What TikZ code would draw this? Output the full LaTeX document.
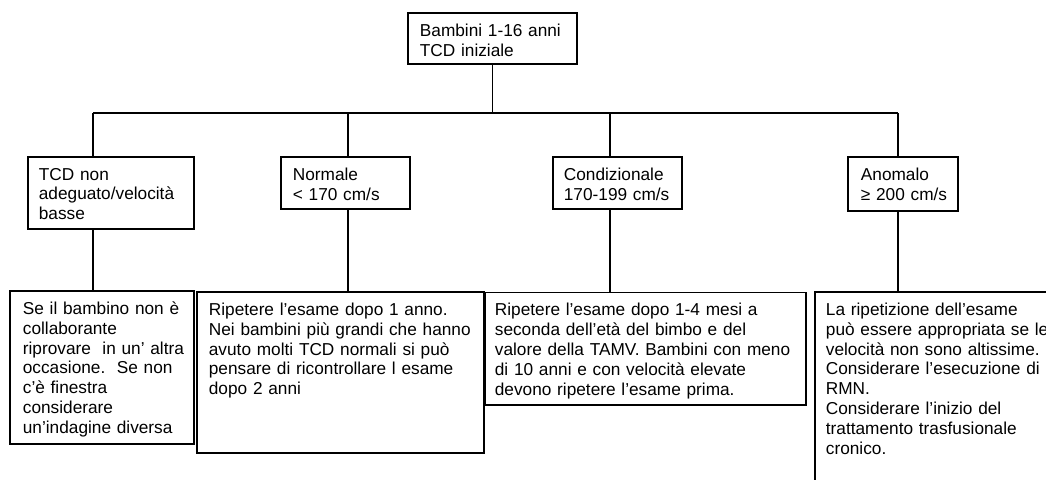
\documentclass[tikz,border=0pt]{standalone}
\usepackage{fontspec}
\setmainfont{Liberation Sans}
\usepackage{tikz}
\usetikzlibrary{positioning}
\hyphenpenalty=10000
\exhyphenpenalty=10000

\begin{document}
\begin{tikzpicture}[x=1pt, y=-1pt,
    box/.style={rectangle, draw, line width=1.8pt, anchor=north west, align=left,
        inner ysep=10pt, text height=13.5pt, font=\fontsize{17.25}{19.8}\selectfont},
    wire/.style={line width=1.8pt}]
    \useasboundingbox (0,0) rectangle (1046,479);
    \clip (0,0) rectangle (1046,479);

    % Root
    \node[box, inner xsep=12pt, text width=145pt, text depth=17.5pt] (root) at (407,12) {Bambini 1-16 anni\\TCD iniziale};

    % Classes
    \node[box, inner xsep=11pt, text width=144pt, text depth=39.1pt] (c1) at (27,155.7) {TCD non\\adeguato/velocità\\basse};
    \node[box, inner xsep=12pt, text width=105pt, text depth=18.8pt] (c2) at (280,156) {Normale\\< 170~cm/s};
    \node[box, inner xsep=11pt, text width=107pt, text depth=18.8pt] (c3) at (552,156) {Condizionale\\170-199~cm/s};
    \node[box, inner xsep=13pt, text width=84pt, text depth=20.5pt] (c4) at (847,156) {Anomalo\\≥~200~cm/s};

    % Actions
    \node[box, inner xsep=13pt, text width=158pt, text depth=119.2pt] (b1) at (9,290) {Se il bambino non è\\collaborante\\\mbox{riprovare~~in~un'~altra}\\\mbox{occasione.~~Se~non}\\c'è finestra\\considerare\\un’indagine diversa};
    \node[box, inner xsep=12pt, text width=263pt, text depth=127.2pt] (b2) at (196,291) {Ripetere l’esame dopo 1 anno.\\Nei bambini più grandi che hanno\\avuto molti TCD normali si può\\pensare di ricontrollare l esame\\dopo 2 anni};
    \node[box, inner xsep=10pt, text width=301pt, text depth=79pt] (b3) at (484,291.5) {Ripetere l’esame dopo 1-4 mesi a\\seconda dell’età del bimbo e del\\valore della TAMV. Bambini con meno\\di 10 anni e con velocità elevate\\devono ripetere l’esame prima.};
    \node[box, inner xsep=11pt, text width=238pt, text depth=166.5pt] (b4) at (814,291) {La ripetizione dell’esame\\può essere appropriata se le\\velocità non sono altissime.\\Considerare l’esecuzione di\\RMN.\\Considerare l’inizio del\\trattamento trasfusionale\\cronico.};

    % Bus
    \coordinate (j1) at (93,113);
    \coordinate (j2) at (348,113);
    \coordinate (j3) at (610,113);
    \coordinate (j4) at (898,113);

    \draw[wire] (root.south) -- (root.south |- j1);
    \draw[wire] (j1) -- (j4);
    \foreach \i in {1,...,4}
        \draw[wire] (j\i) -- (j\i |- c\i.north) (j\i |- c\i.south) -- (j\i |- b\i.north);
\end{tikzpicture}
\end{document}
